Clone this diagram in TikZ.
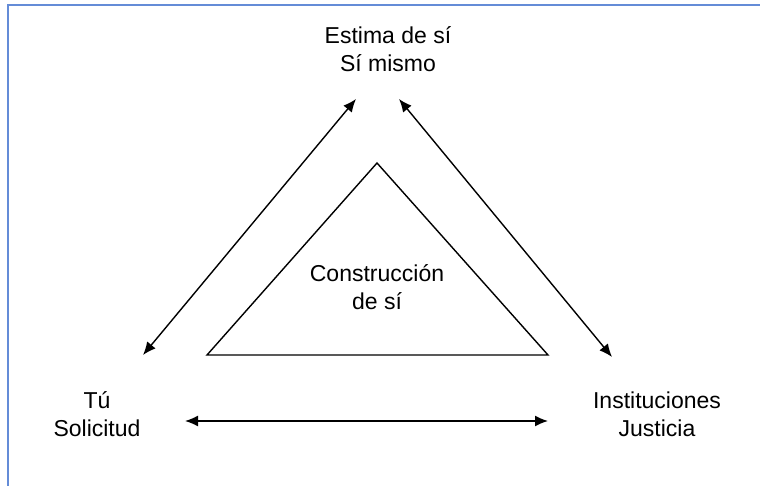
\documentclass[tikz,border=0pt]{standalone}
\usepackage{xcolor}
\usepackage{fontspec}
\setmainfont{Liberation Sans}
\usepackage{tikz}
\usetikzlibrary{arrows.meta, positioning, calc}

\definecolor{frameblue}{RGB}{100,140,215}
\tikzset{
    label text/.style={align=center, inner sep=0pt, font=\fontsize{11.5}{13.8}\selectfont},
    double arrow/.style={{Latex[length=6.5pt,width=5.5pt]}-{Latex[length=6.5pt,width=5.5pt]}, line width=0.7pt},
}

\begin{document}
\begin{tikzpicture}[x=0.5pt, y=-0.5pt]
    \useasboundingbox (0,0) rectangle (760,486);
    % frame on the left and top
    \draw[frameblue, line width=0.7pt] (8,486) -- (8,5) -- (760,5);

    % the three poles
    \node[label text] (estima) at (388,49) {Estima de sí\\Sí mismo};
    \node[label text] (tu) at (97,414) {Tú\\Solicitud};
    \node[label text] (inst) at (657,414) {Instituciones\\Justicia};

    % inner triangle
    \coordinate (apex) at (377,163);
    \coordinate (baseL) at (207,355);
    \coordinate (baseR) at (548,355);
    \draw[line width=0.7pt] (apex) -- (baseL) -- (baseR) -- cycle;
    \node[label text] (constr) at (377,287) {Construcción\\de sí};

    % arrow ends
    \coordinate (estimaL) at (356,99);
    \coordinate (estimaR) at (399,99);
    \coordinate (tuUp) at (143,355);
    \coordinate (instUp) at (612,357);
    \coordinate (tuR) at (185,421);
    \coordinate (instL) at (548,421);

    \draw[double arrow] (estimaL) -- (tuUp);
    \draw[double arrow] (estimaR) -- (instUp);
    \draw[double arrow] (tuR) -- (instL);
\end{tikzpicture}
\end{document}
